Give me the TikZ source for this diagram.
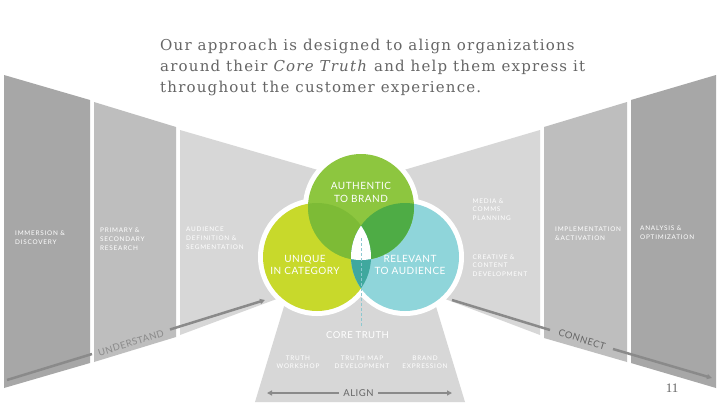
\documentclass[tikz,border=0pt]{standalone}
\usepackage{fontspec}
\setmainfont{DejaVu Serif}[LetterSpace=8]
\newfontfamily\labfont{Lato}[LetterSpace=12]
\newfontfamily\circfont{Lato}[LetterSpace=5]
\newfontfamily\numfont{Liberation Serif}
\usetikzlibrary{arrows.meta}
\definecolor{pdark}{HTML}{A7A7A7}
\definecolor{pmid}{HTML}{BEBEBE}
\definecolor{plight}{HTML}{D7D7D7}
\definecolor{cgreen}{HTML}{8DC63F}
\definecolor{cyellow}{HTML}{C8D92B}
\definecolor{cteal}{HTML}{8FD5DA}
\definecolor{cgy}{HTML}{7DBB36}
\definecolor{cgt}{HTML}{4EAC45}
\definecolor{cyt}{HTML}{3FA89E}
\definecolor{titlegray}{HTML}{666666}
\definecolor{linegray}{HTML}{8A8A8A}
\definecolor{dashcol}{HTML}{8CC8D0}
\begin{document}
\begin{tikzpicture}[x=1pt,y=-1pt,
  title/.style={font=\fontsize{15}{20}\selectfont, text=titlegray, inner sep=0, anchor=base west},
  lab/.style={font=\labfont\fontsize{6.4}{8.6}\selectfont, text=white, align=left, anchor=north west, inner sep=0},
  blab/.style={font=\labfont\fontsize{6.4}{8.6}\selectfont, text=white, align=center, inner sep=0},
  clab/.style={font=\circfont\fontsize{10}{12.5}\selectfont, text=white, align=center, inner sep=0},
  flow/.style={draw=linegray, line width=2.5pt},
  tip/.style={-{Triangle[length=5pt,width=5pt]}}
]
\useasboundingbox (0,0) rectangle (720,405);
\fill[white] (0,0) rectangle (720,405);
% panels
\fill[pdark] (4,75) -- (90,100) -- (90,363) -- (4,388) -- cycle;
\fill[pmid] (94,102) -- (176,127) -- (176,337) -- (94,362) -- cycle;
\fill[plight] (180,130) -- (330,173.5) -- (290,294) -- (180,335) -- cycle;
\fill[plight] (540,130) -- (392,173.5) -- (432,294) -- (540,335) -- cycle;
\fill[pmid] (544,127) -- (627,102) -- (627,362) -- (544,338) -- cycle;
\fill[pdark] (631,100) -- (716,75) -- (716,388) -- (631,363) -- cycle;
\fill[plight] (255,402) -- (289,290) -- (431,290) -- (465,402) -- cycle;
% flow lines
\coordinate (u0) at (7,380);
\coordinate (u1) at (92,354);
\coordinate (u2) at (170,329.5);
\coordinate (u3) at (265,300);
\draw[flow] (u0) -- (u1);
\draw[flow, tip] (u2) -- (u3);
\node[font=\circfont\fontsize{9.5}{10}\selectfont, text=linegray, rotate=17, inner sep=0] (und) at (131,343) {UNDERSTAND};
\coordinate (c0) at (452,300);
\coordinate (c1) at (550,330);
\coordinate (c2) at (613,349);
\coordinate (c3) at (712,378);
\draw[flow] (c0) -- (c1);
\draw[flow, tip] (c2) -- (c3);
\node[font=\circfont\fontsize{9.5}{10}\selectfont, text=titlegray, rotate=-17, inner sep=0] (con) at (582,339.5) {CONNECT};
\coordinate (a0) at (267,393);
\coordinate (a1) at (452,393);
\draw[flow, {Triangle[length=5pt,width=5pt]}-{Triangle[length=5pt,width=5pt]}] (a0) -- (a1);
\node[font=\circfont\fontsize{9.5}{10}\selectfont, text=titlegray, fill=plight, inner xsep=4pt, inner ysep=1pt] (align) at (358.5,393.5) {ALIGN};
% circles
\coordinate (ct) at (361,207);
\coordinate (cl) at (317,257);
\coordinate (cr) at (405,257);
\fill[white] (ct) circle[radius=58] (cl) circle[radius=59] (cr) circle[radius=59];
\fill[cyellow] (cl) circle[radius=54];
\fill[cteal] (cr) circle[radius=54];
\fill[cgreen] (ct) circle[radius=53];
\begin{scope}
  \clip (ct) circle[radius=53];
  \fill[cgy] (cl) circle[radius=54];
  \fill[cgt] (cr) circle[radius=54];
\end{scope}
\begin{scope}
  \clip (cl) circle[radius=54];
  \fill[cyt] (cr) circle[radius=54];
  \clip (cr) circle[radius=54];
  \fill[white] (ct) circle[radius=53];
\end{scope}
\coordinate (d0) at (361,238);
\coordinate (d1) at (361,326);
\draw[dashcol, line width=0.8pt, dash pattern=on 3pt off 2pt] (d0) -- (d1);
\node[clab] (auth) at (361,192.5) {AUTHENTIC\\TO BRAND};
\node[clab] (uniq) at (305,265) {UNIQUE\\IN CATEGORY};
\node[clab] (rel) at (410,265) {RELEVANT\\TO AUDIENCE};
\node[font=\circfont\fontsize{9.5}{10}\selectfont, text=white, inner sep=0] (core) at (357.5,335) {CORE TRUTH};
% panel labels
\node[lab] (l1) at (15,231) {IMMERSION \&\\DISCOVERY};
\node[lab] (l2) at (100,228) {PRIMARY \&\\SECONDARY\\RESEARCH};
\node[lab] (l3) at (186,227) {AUDIENCE\\DEFINITION \&\\SEGMENTATION};
\node[lab] (l4) at (472.5,198.5) {MEDIA \&\\COMMS\\PLANNING};
\node[lab] (l5) at (472.5,254.5) {CREATIVE \&\\CONTENT\\DEVELOPMENT};
\node[lab] (l6) at (555,227) {IMPLEMENTATION\\\&ACTIVATION};
\node[lab] (l7) at (640,226) {ANALYSIS \&\\OPTIMIZATION};
\node[blab] (b1) at (298,362.3) {TRUTH\\WORKSHOP};
\node[blab] (b2) at (362,362.3) {TRUTH MAP\\DEVELOPMENT};
\node[blab] (b3) at (425,362.3) {BRAND\\EXPRESSION};
% title
\node[title] (t1) at (160,50) {Our approach is designed to align organizations};
\node[title] (t2) at (160,71) {around their \textit{Core Truth} and help them express it};
\node[title] (t3) at (160,92) {throughout the customer experience.};
\node[font=\numfont\fontsize{13}{13}\selectfont, text=titlegray, inner sep=0] (pg) at (672,388) {11};
\end{tikzpicture}
\end{document}
